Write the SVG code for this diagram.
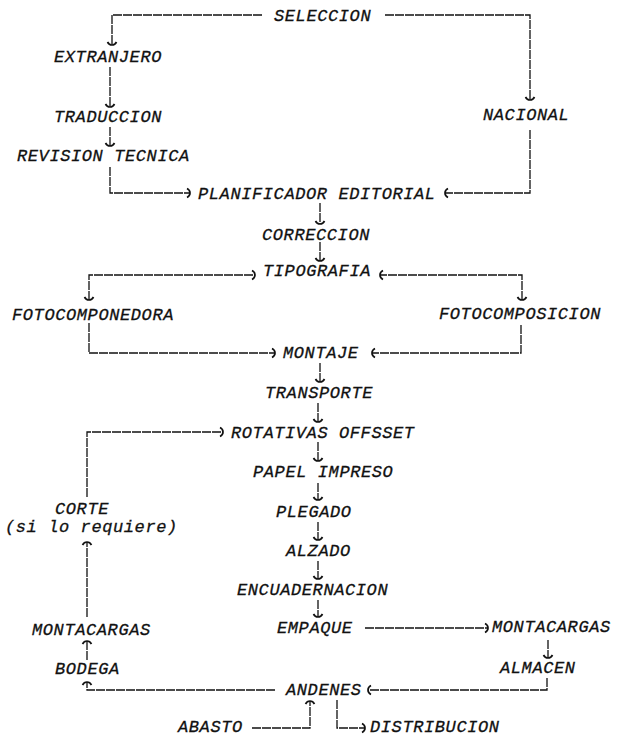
<svg xmlns="http://www.w3.org/2000/svg" width="617" height="737" viewBox="0 0 617 737">
<style>
text{font-family:"Liberation Mono","Courier New",monospace;font-style:italic;font-size:17px;letter-spacing:0.6px;fill:#111;stroke:#111;stroke-width:0.3}
.c path{fill:none;stroke:#111;stroke-width:1.3;stroke-dasharray:9 1}
</style>
<defs>
<marker id="ah" viewBox="-6 -6 8 12" markerWidth="8" markerHeight="12" refX="0" refY="0" orient="auto-start-reverse" markerUnits="userSpaceOnUse">
<path d="M-3,-4.5 Q0,-3 0,0 Q0,3 -3,4.5" fill="none" stroke="#111" stroke-width="1.7"/>
</marker>
</defs>
<rect width="617" height="737" fill="#fff"/>
<g class="c" id="connectors">
<path d="M262,15 H112 V45" marker-end="url(#ah)"/>
<path d="M385,15 H530 V100" marker-end="url(#ah)"/>
<path d="M110,67 V107" marker-end="url(#ah)"/>
<path d="M110,127 V146" marker-end="url(#ah)"/>
<path d="M110,167 V193 H190" marker-end="url(#ah)"/>
<path d="M530,130 V193 H445" marker-end="url(#ah)"/>
<path d="M320,203 V224" marker-end="url(#ah)"/>
<path d="M320,242 V261" marker-end="url(#ah)"/>
<path d="M89,300 V275 H255" marker-start="url(#ah)" marker-end="url(#ah)"/>
<path d="M522,300 V275 H380" marker-start="url(#ah)" marker-end="url(#ah)"/>
<path d="M89,323 V353 H275" marker-end="url(#ah)"/>
<path d="M521,325 V353 H372" marker-end="url(#ah)"/>
<path d="M320,363 V382" marker-end="url(#ah)"/>
<path d="M318,403 V422" marker-end="url(#ah)"/>
<path d="M318,442 V461" marker-end="url(#ah)"/>
<path d="M318,483 V500" marker-end="url(#ah)"/>
<path d="M318,522 V540" marker-end="url(#ah)"/>
<path d="M318,561 V579" marker-end="url(#ah)"/>
<path d="M318,600 V617" marker-end="url(#ah)"/>
<path d="M365,628 H488" marker-end="url(#ah)"/>
<path d="M548,640 V658" marker-end="url(#ah)"/>
<path d="M547,678 V690 H368" marker-end="url(#ah)"/>
<path d="M275,690 H87 V682" marker-end="url(#ah)"/>
<path d="M87,660 V641" marker-end="url(#ah)"/>
<path d="M87,617 V542" marker-end="url(#ah)"/>
<path d="M87,497 V432 H223" marker-end="url(#ah)"/>
<path d="M252,728 H310 V701" marker-end="url(#ah)"/>
<path d="M337,700 V728 H365" marker-end="url(#ah)"/>
</g>
<g id="seleccion"><text x="274" y="21">SELECCION</text></g>
<g id="extranjero"><text x="54" y="62">EXTRANJERO</text></g>
<g id="traduccion"><text x="54" y="122">TRADUCCION</text></g>
<g id="revision"><text x="17" y="161">REVISION TECNICA</text></g>
<g id="nacional"><text x="483" y="120">NACIONAL</text></g>
<g id="planificador"><text x="198" y="199">PLANIFICADOR EDITORIAL</text></g>
<g id="correccion"><text x="262" y="240">CORRECCION</text></g>
<g id="tipografia"><text x="263" y="276">TIPOGRAFIA</text></g>
<g id="fotocomponedora"><text x="12" y="320">FOTOCOMPONEDORA</text></g>
<g id="fotocomposicion"><text x="439" y="319">FOTOCOMPOSICION</text></g>
<g id="montaje"><text x="283" y="358">MONTAJE</text></g>
<g id="transporte"><text x="265" y="398">TRANSPORTE</text></g>
<g id="rotativas"><text x="231" y="438">ROTATIVAS OFFSSET</text></g>
<g id="papel"><text x="253" y="477">PAPEL IMPRESO</text></g>
<g id="plegado"><text x="276" y="517">PLEGADO</text></g>
<g id="alzado"><text x="286" y="556">ALZADO</text></g>
<g id="encuadernacion"><text x="237" y="595">ENCUADERNACION</text></g>
<g id="empaque"><text x="277" y="633">EMPAQUE</text></g>
<g id="montacargas-r"><text x="492" y="632">MONTACARGAS</text></g>
<g id="almacen"><text x="500" y="673">ALMACEN</text></g>
<g id="andenes"><text x="286" y="695">ANDENES</text></g>
<g id="abasto"><text x="178" y="732">ABASTO</text></g>
<g id="distribucion"><text x="370" y="732">DISTRIBUCION</text></g>
<g id="bodega"><text x="55" y="674">BODEGA</text></g>
<g id="montacargas-l"><text x="32" y="635">MONTACARGAS</text></g>
<g id="corte"><text x="55" y="514">CORTE</text><text x="5" y="532">(si lo requiere)</text></g>
</svg>
